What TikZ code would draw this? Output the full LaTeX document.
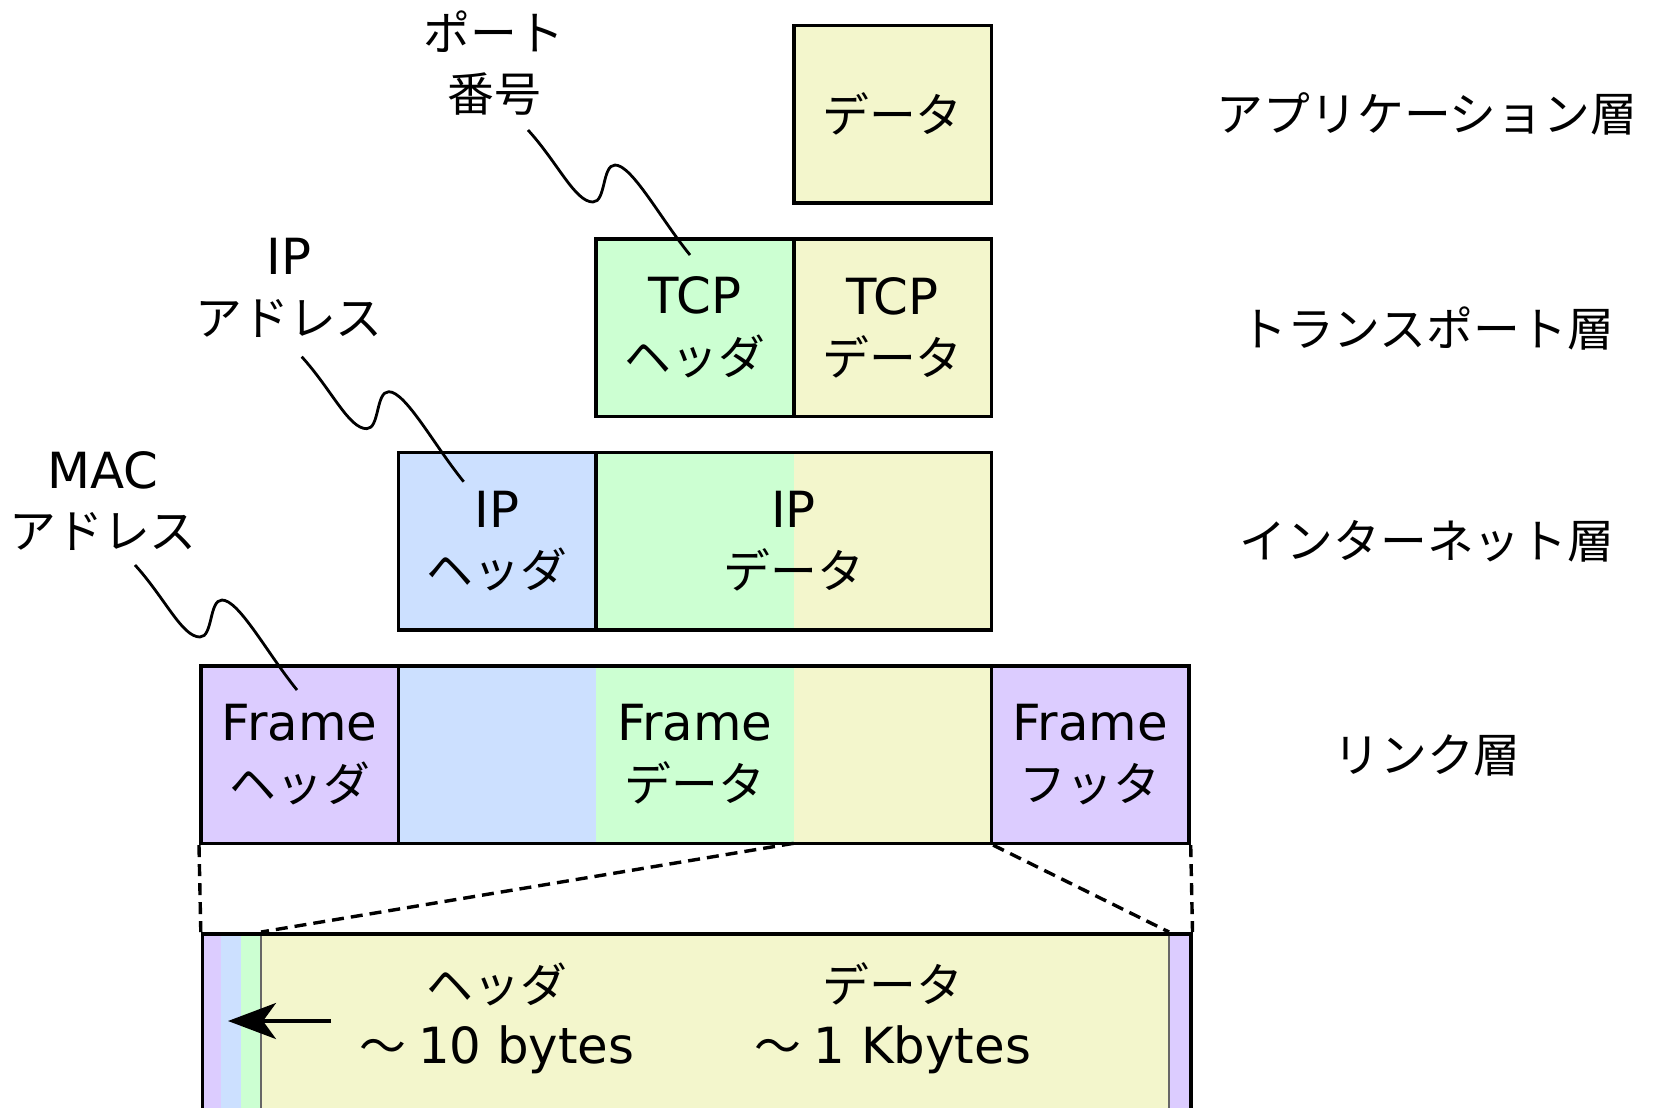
\documentclass[tikz,border=0pt]{standalone}
\usepackage{fontspec}
\setmainfont{DejaVu Sans}
\newfontfamily\jp{Noto Sans CJK JP}[Scale=0.94]
\usetikzlibrary{arrows.meta}
\definecolor{cpur}{HTML}{DCCCFF}
\definecolor{cblu}{HTML}{CCE0FF}
\definecolor{cgrn}{HTML}{CCFFD2}
\definecolor{cyel}{HTML}{F3F6CC}
\begin{document}
\begin{tikzpicture}[x=1bp,y=-1bp,
  txt/.style={align=center, inner sep=0pt, font=\fontsize{50}{61}\selectfont},
  box/.style={txt, draw=black, line width=3.6bp, minimum height=177.5bp, minimum width=197.6bp},
  wave/.style={draw=black, line width=2.8bp},
  zoomline/.style={draw=black, line width=3.4bp, dash pattern=on 12bp off 7bp},
  thinsep/.style={draw=black!60, line width=1.5bp}]
\clip (0,0) rectangle (1657,1107);
\fill[white] (0,0) rectangle (1657,1107);

% fills of split boxes
\fill[cgrn] (596,452.3) rectangle (793.7,629.9);
\fill[cyel] (793.7,452.3) rectangle (991.3,629.9);
\fill[cblu] (398.4,665.8) rectangle (596,843.3);
\fill[cgrn] (596,665.8) rectangle (793.7,843.3);
\fill[cyel] (793.7,665.8) rectangle (991.3,843.3);

% application layer
\node[box, fill=cyel] (app) at (892.5,114.1) {\jp データ};
% transport layer
\node[box, fill=cgrn] (tcph) at (694.85,327.6) {TCP\\\jp ヘッダ};
\node[box, fill=cyel] (tcpd) at (892.5,327.6) {TCP\\\jp データ};
% internet layer
\node[box, fill=cblu] (iph) at (497.2,541.1) {IP\\\jp ヘッダ};
\node[box, minimum width=395.3bp] (ipd) at (793.65,541.1) {IP\\\jp データ};
% link layer
\node[box, fill=cpur] (frh) at (299.6,754.55) {Frame\\\jp ヘッダ};
\node[box, minimum width=592.9bp] (frd) at (694.85,754.55) {Frame\\\jp データ};
\node[box, fill=cpur] (frf) at (1090.1,754.55) {Frame\\\jp フッタ};

% zoomed strip
\fill[cpur] (200.8,932) rectangle (221,1130);
\fill[cblu] (221,932) rectangle (241,1130);
\fill[cgrn] (241,932) rectangle (261,1130);
\fill[cyel] (261,932) rectangle (1169,1130);
\fill[cpur] (1169,932) rectangle (1188.9,1130);
\draw[thinsep] (261,932) -- (261,1130);
\draw[thinsep] (1169,932) -- (1169,1130);
\node[draw=black, line width=3.6bp, inner sep=0pt, minimum width=988.1bp, minimum height=198bp, anchor=north west] (strip) at (200.8,932) {};
\node[txt] (hsz) at (497,1018) {\jp ヘッダ\\\jp 〜\hspace{12bp}\normalfont 10 bytes};
\node[txt] (dsz) at (893,1018) {\jp データ\\\jp 〜\hspace{12bp}\normalfont 1 Kbytes};

% zoom lines
\coordinate (gy) at (793.7,843.3);
\coordinate (sg) at (261,932);
\coordinate (sp) at (1169,932);
\draw[zoomline] (frh.south west) -- (strip.north west);
\draw[zoomline] (gy) -- (sg);
\draw[zoomline] (frd.south east) -- (sp);
\draw[zoomline] (frf.south east) -- (strip.north east);

% arrow
\coordinate (arS) at (331,1021);
\coordinate (arE) at (228,1021);
\draw[line width=3.4bp, -{Stealth[length=48bp,width=36bp,inset=13bp]}] (arS) -- (arE);

% callout labels
\node[txt] (port) at (494,63) {\jp ポート\\\jp 番号};
\node[txt] (ipa) at (289,288) {IP\\\jp アドレス};
\node[txt] (maca) at (103,501) {MAC\\\jp アドレス};

\coordinate (pw) at (528,130);
\coordinate (iw) at (301.7,356.7);
\coordinate (mw) at (135,565);
\foreach \c in {pw,iw,mw}{
  \draw[wave] (\c) .. controls +(30,33) and +(-18,0) .. ++(65,72)
     .. controls +(13,0) and +(-13,0) .. ++(22,-37)
     .. controls +(17,0) and +(-30,-37) .. ++(75,90);
}

% layer labels
\node[txt] (lapp) at (1427,114) {\jp アプリケーション層};
\node[txt] (ltr) at (1427,328) {\jp トランスポート層};
\node[txt] (lin) at (1427,541) {\jp インターネット層};
\node[txt] (llk) at (1427,755) {\jp リンク層};
\end{tikzpicture}
\end{document}
